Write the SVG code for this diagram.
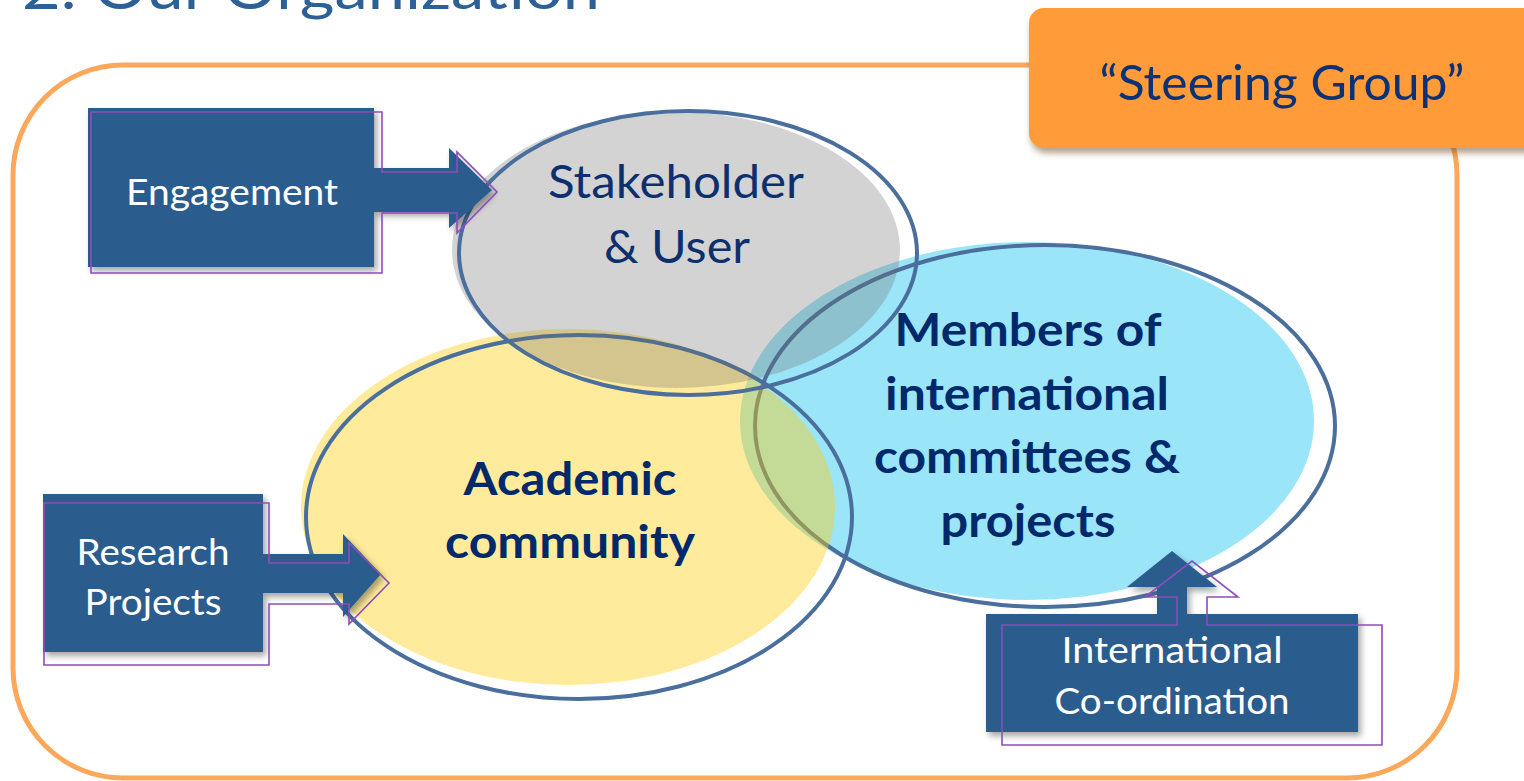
<svg xmlns="http://www.w3.org/2000/svg" width="1524" height="781" viewBox="0 0 1524 781">
<defs>
<filter id="shadow" x="-10%" y="-10%" width="130%" height="140%">
<feDropShadow dx="3" dy="4" stdDeviation="3" flood-color="#000" flood-opacity="0.35"/>
</filter>
<filter id="shadow2" x="-10%" y="-10%" width="130%" height="140%">
<feDropShadow dx="2" dy="5" stdDeviation="3" flood-color="#6b3a0a" flood-opacity="0.5"/>
</filter>
</defs>
<style>
text{font-family:Lato,"Open Sans","Liberation Sans",sans-serif}
.title{font-size:58px;fill:#2D6097}
.box{fill:#2A5B8E;filter:url(#shadow)}
.outl{fill:none;stroke:#8E4DB8;stroke-width:1.6}
.wt{fill:#FFFFFF;font-size:37px}
.ring{fill:none;stroke:#4A6F9C;stroke-width:4}
.nav{fill:#0D2F6E;font-size:46px}
.bold{fill:#00296B;font-size:46px;font-weight:bold}
</style>
<rect width="1524" height="781" fill="#FFFFFF"/>
<g id="title">
<text class="title" x="22" y="9" textLength="578" lengthAdjust="spacingAndGlyphs">2. Our Organization</text>
</g>
<g id="frame">
<rect x="13" y="65" width="1444" height="713" rx="110" ry="110" fill="none" stroke="#FBA85B" stroke-width="5"/>
</g>
<g id="steering-group">
<rect x="1029" y="8" width="520" height="140" rx="15" ry="15" fill="#FF9B38" filter="url(#shadow2)"/>
<text x="1282" y="100" font-size="48" fill="#0B3276" text-anchor="middle" textLength="365" lengthAdjust="spacingAndGlyphs">“Steering Group”</text>
</g>
<g id="members">
<ellipse cx="1027" cy="421" rx="287" ry="179" fill="#9BE5F8"/>
<ellipse class="ring" cx="1045" cy="426" rx="290" ry="181"/>
</g>
<g id="academic">
<ellipse cx="568" cy="507" rx="267" ry="178" fill="#FFCE0B" fill-opacity="0.406"/>
<ellipse class="ring" cx="579" cy="517" rx="273" ry="182"/>
</g>
<g id="stakeholder">
<ellipse cx="676" cy="250" rx="224" ry="138" fill="#6C6C6C" fill-opacity="0.3"/>
<ellipse class="ring" cx="688" cy="253" rx="229" ry="142"/>
</g>
<g id="labels">
<text class="nav" x="676" y="198" text-anchor="middle" textLength="256" lengthAdjust="spacingAndGlyphs">Stakeholder</text>
<text class="nav" x="677" y="263" text-anchor="middle" textLength="146" lengthAdjust="spacingAndGlyphs">&amp; User</text>
<text class="bold" x="1028" y="346" text-anchor="middle" textLength="267" lengthAdjust="spacingAndGlyphs">Members of</text>
<text class="bold" x="1027" y="410" text-anchor="middle" textLength="284" lengthAdjust="spacingAndGlyphs">international</text>
<text class="bold" x="1027" y="473" text-anchor="middle" textLength="306" lengthAdjust="spacingAndGlyphs">committees &amp;</text>
<text class="bold" x="1028" y="537" text-anchor="middle" textLength="175" lengthAdjust="spacingAndGlyphs">projects</text>
<text class="bold" x="570" y="495" text-anchor="middle" font-size="45" textLength="213" lengthAdjust="spacingAndGlyphs">Academic</text>
<text class="bold" x="570" y="558" text-anchor="middle" font-size="45" textLength="250" lengthAdjust="spacingAndGlyphs">community</text>
</g>
<g id="engagement">
<polygon class="box" points="88,108 374,108 374,168 449,168 449,148 492,190 449,228 449,212 374,212 374,267 88,267"/>
<polygon class="outl" points="91,112 382,112 382,172 457,172 457,152 497,192 457,233 457,213 382,213 382,273 91,273"/>
<text class="wt" x="232" y="205" text-anchor="middle" textLength="212" lengthAdjust="spacingAndGlyphs">Engagement</text>
</g>
<g id="research-projects">
<polygon class="box" points="43,494 263,494 263,554 343,554 343,534 381,574 343,617 343,593 263,593 263,652 43,652"/>
<polygon class="outl" points="44,503 269,503 269,563 349,563 349,543 389,583 349,624 349,604 269,604 269,665 44,665"/>
<text class="wt" x="153" y="565" text-anchor="middle" font-size="36" textLength="153" lengthAdjust="spacingAndGlyphs">Research</text>
<text class="wt" x="153" y="615" text-anchor="middle" font-size="36" textLength="137" lengthAdjust="spacingAndGlyphs">Projects</text>
</g>
<g id="international-coordination">
<polygon class="box" points="986,614 1157,614 1157,587 1127,587 1172,551 1217,587 1187,587 1187,614 1358,614 1358,732 986,732"/>
<polygon class="outl" points="1002,625 1177,625 1177,597 1145,597 1192,561 1238,597 1207,597 1207,625 1382,625 1382,745 1002,745"/>
<text class="wt" x="1172" y="663" text-anchor="middle" font-size="36" textLength="221" lengthAdjust="spacingAndGlyphs">International</text>
<text class="wt" x="1172" y="714" text-anchor="middle" font-size="36" textLength="235" lengthAdjust="spacingAndGlyphs">Co-ordination</text>
</g>
</svg>
